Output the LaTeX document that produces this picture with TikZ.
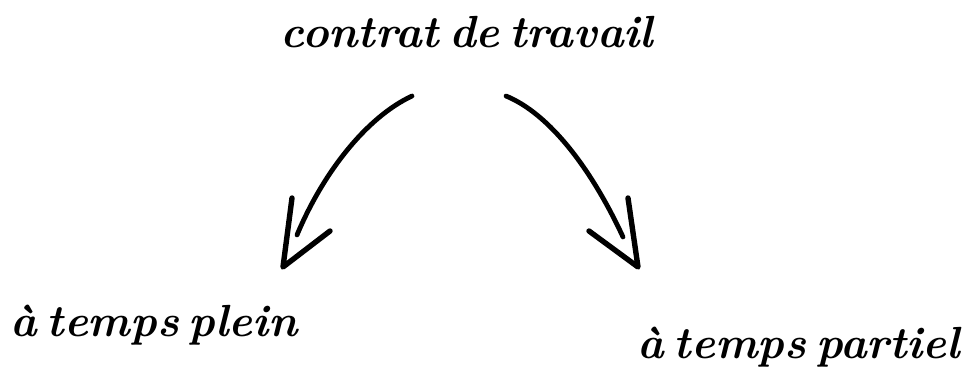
\documentclass[tikz,border=0pt]{standalone}
\usepackage{fontspec}
\newcommand\handfont{\fontsize{45}{50}\selectfont\bfseries\itshape\spaceskip=0.22em plus 0.05em\relax}
\begin{document}
\begin{tikzpicture}[x=1pt,y=-1pt,
  lbl/.style={font=\handfont, inner sep=0pt},
  shaft/.style={line width=4.8pt, line cap=round},
  barb/.style={line width=5.4pt, line cap=round, line join=round}]
\useasboundingbox (0,0) rectangle (967,370);
\node[lbl] (top) at (467,32) {contrat de travail};
\node[lbl, anchor=west] (plein) at (10,325) {à temps plein};
\node[lbl, anchor=east] (partiel) at (960,347) {à temps partiel};
% left arrow
\coordinate (ls) at (412,96);
\coordinate (le) at (297,235);
\coordinate (lt) at (283,267);
\coordinate (lb1) at (292,198);
\coordinate (lb2) at (330,231);
\draw[shaft] (ls) .. controls (365,118) and (322,175) .. (le);
\draw[barb] (lb1) -- (lt) -- (lb2);
% right arrow
\coordinate (rs) at (506,96);
\coordinate (re) at (623,237);
\coordinate (rt) at (638,267);
\coordinate (rb1) at (628,198);
\coordinate (rb2) at (589,231);
\draw[shaft] (rs) .. controls (550,114) and (592,170) .. (re);
\draw[barb] (rb1) -- (rt) -- (rb2);
\end{tikzpicture}
\end{document}
